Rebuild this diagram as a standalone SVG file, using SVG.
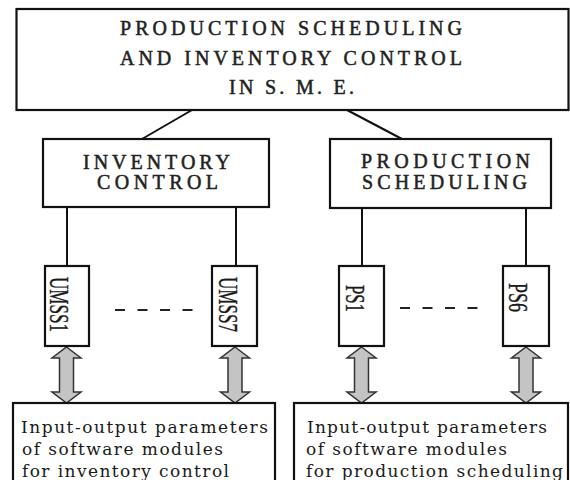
<svg xmlns="http://www.w3.org/2000/svg" xmlns:xlink="http://www.w3.org/1999/xlink" width="570" height="480" viewBox="0 0 570 480">
  <style>
    .box { fill: #ffffff; stroke: #111111; stroke-width: 2.2; }
    .line { stroke: #111111; stroke-width: 2; fill: none; }
    .dash { stroke: #222222; stroke-width: 2; stroke-dasharray: 10 12.5; fill: none; }
    .arrow { fill: #c4c4c4; stroke: #333333; stroke-width: 1.5; stroke-linejoin: miter; }
    .title { font-family: "Liberation Serif", "Times New Roman", serif; font-size: 20px; fill: #222222; stroke: #222222; stroke-width: 0.5; text-anchor: start; }
    .head { font-family: "Liberation Serif", "Times New Roman", serif; font-size: 20px; fill: #222222; stroke: #222222; stroke-width: 0.5; text-anchor: start; }
    .mod { font-family: "Liberation Serif", "Times New Roman", serif; font-size: 28px; fill: #1a1a1a; stroke: #1a1a1a; stroke-width: 0.4; text-anchor: middle; }
    .body { font-family: "DejaVu Serif", serif; font-size: 17px; fill: #1a1a1a; text-anchor: start; }
  </style>
  <defs>
    <path id="darrow" class="arrow" d="M0,347 L14.5,358 L7,358 L7,392 L14.5,392 L0,403 L-14.5,392 L-7,392 L-7,358 L-14.5,358 Z"/>
  </defs>
  <rect width="570" height="480" fill="#ffffff"/>

  <g id="connectors">
    <line class="line" x1="192" y1="110" x2="142" y2="139"/>
    <line class="line" x1="347" y1="110" x2="402" y2="139"/>
    <line class="line" x1="67" y1="207" x2="67" y2="266"/>
    <line class="line" x1="236" y1="207" x2="236" y2="266"/>
    <line class="line" x1="362" y1="208" x2="362" y2="266"/>
    <line class="line" x1="526" y1="208" x2="526" y2="266"/>
    <line class="dash" x1="115" y1="310" x2="193" y2="310"/>
    <line class="dash" x1="400" y1="308" x2="483" y2="308"/>
    <use xlink:href="#darrow" href="#darrow" transform="translate(66.5,0)"/>
    <use xlink:href="#darrow" href="#darrow" transform="translate(235,0)"/>
    <use xlink:href="#darrow" href="#darrow" transform="translate(361.5,0)"/>
    <use xlink:href="#darrow" href="#darrow" transform="translate(526,0)"/>
  </g>

  <g id="root">
    <rect class="box" x="16.5" y="9" width="552" height="101"/>
    <text class="title" x="120" y="35" textLength="342" lengthAdjust="spacing">PRODUCTION SCHEDULING</text>
    <text class="title" x="120" y="65" textLength="342" lengthAdjust="spacing">AND INVENTORY CONTROL</text>
    <text class="title" x="229" y="94" textLength="125" lengthAdjust="spacing">IN S. M. E.</text>
  </g>

  <g id="inventory-control">
    <rect class="box" x="43" y="139" width="226" height="68"/>
    <text class="head" x="83" y="169" textLength="147" lengthAdjust="spacing">INVENTORY</text>
    <text class="head" x="97" y="189" textLength="121" lengthAdjust="spacing">CONTROL</text>
  </g>

  <g id="production-scheduling">
    <rect class="box" x="330" y="139" width="221" height="69"/>
    <text class="head" x="361" y="168" textLength="169" lengthAdjust="spacing">PRODUCTION</text>
    <text class="head" x="362" y="189" textLength="165" lengthAdjust="spacing">SCHEDULING</text>
  </g>

  <g id="umss1">
    <rect class="box" x="45" y="266" width="44" height="80"/>
    <text class="mod" transform="translate(50,304.5) rotate(90)" textLength="55" lengthAdjust="spacingAndGlyphs">UMSS1</text>
  </g>

  <g id="umss7">
    <rect class="box" x="212" y="266" width="45" height="80"/>
    <text class="mod" transform="translate(219,304.5) rotate(90)" textLength="55" lengthAdjust="spacingAndGlyphs">UMSS7</text>
  </g>

  <g id="ps1">
    <rect class="box" x="339" y="266" width="45" height="80"/>
    <text class="mod" transform="translate(346,298.5) rotate(90)" textLength="27" lengthAdjust="spacingAndGlyphs">PS1</text>
  </g>

  <g id="ps6">
    <rect class="box" x="503" y="266" width="46" height="80"/>
    <text class="mod" transform="translate(509,297.5) rotate(90)" textLength="29" lengthAdjust="spacingAndGlyphs">PS6</text>
  </g>

  <g id="io-inventory">
    <rect class="box" x="13" y="403" width="262" height="80"/>
    <text class="body" x="21" y="433" textLength="247" lengthAdjust="spacing">Input-output parameters</text>
    <text class="body" x="22" y="455" textLength="201" lengthAdjust="spacing">of software modules</text>
    <text class="body" x="22" y="477" textLength="207" lengthAdjust="spacing">for inventory control</text>
  </g>

  <g id="io-production">
    <rect class="box" x="294" y="403" width="274" height="80"/>
    <text class="body" x="307" y="433" textLength="240" lengthAdjust="spacing">Input-output parameters</text>
    <text class="body" x="306" y="455" textLength="201" lengthAdjust="spacing">of software modules</text>
    <text class="body" x="306" y="477" textLength="257" lengthAdjust="spacing">for production scheduling</text>
  </g>
</svg>
